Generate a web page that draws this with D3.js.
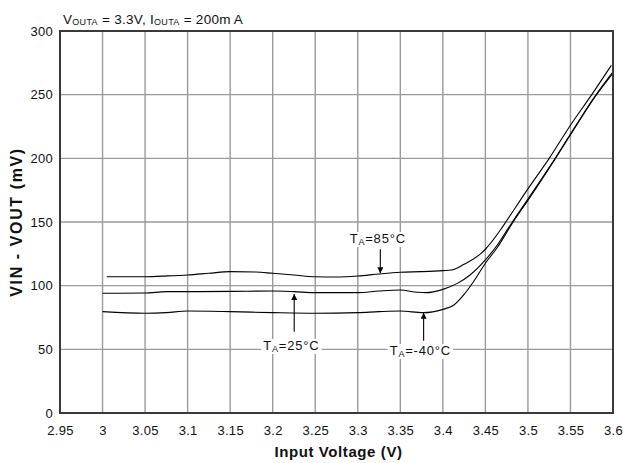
<!DOCTYPE html>
<html>
<head>
<meta charset="utf-8">
<script src="https://cdn.jsdelivr.net/npm/d3@7"></script>
<style>
  html, body { margin: 0; padding: 0; background: #fff; }
  svg text { font-family: "Liberation Sans", Arial, Helvetica, sans-serif; fill: #111; }
</style>
</head>
<body>
<svg id="chart" width="623" height="463"></svg>
<script>
// Dropout voltage (VIN - VOUT) versus input voltage at three ambient temperatures
const xTicks = [2.95, 3, 3.05, 3.1, 3.15, 3.2, 3.25, 3.3, 3.35, 3.4, 3.45, 3.5, 3.55, 3.6];
const yTicks = [0, 50, 100, 150, 200, 250, 300];

const vin85 = [3.005, 3.05, 3.07, 3.10, 3.125, 3.15, 3.18, 3.20, 3.225, 3.25, 3.275, 3.30, 3.325, 3.35, 3.375, 3.40, 3.41, 3.425, 3.445, 3.45, 3.4676, 3.475, 3.50, 3.525, 3.55, 3.575, 3.598];
const drop85 = [107, 107, 107.5, 108.4, 109.7, 111, 110.7, 109.7, 108.4, 107, 106.8, 107.6, 109.2, 110.5, 111, 111.8, 112.3, 116.8, 125.4, 128.6, 143.7, 151, 176, 200, 226, 250, 273];

const vin25 = [3.0, 3.05, 3.075, 3.10, 3.15, 3.20, 3.225, 3.25, 3.30, 3.325, 3.35, 3.37, 3.38, 3.40, 3.417, 3.432, 3.45, 3.464, 3.4755, 3.4833, 3.50, 3.532, 3.55, 3.579, 3.60];
const drop25 = [94, 94.2, 95.3, 95.3, 95.5, 95.8, 95.3, 94.5, 94.5, 95.8, 96.6, 94.8, 94.5, 97.1, 101.8, 108.4, 120.2, 131.9, 143.7, 151.6, 168, 200, 219, 249, 268];

const vinM40 = [3.0, 3.05, 3.075, 3.10, 3.15, 3.20, 3.25, 3.30, 3.325, 3.35, 3.377, 3.40, 3.413, 3.4245, 3.436, 3.45, 3.464, 3.483, 3.50, 3.532, 3.55, 3.579, 3.60];
const dropM40 = [79.6, 78.3, 78.8, 80.1, 79.6, 78.8, 78.3, 78.8, 79.6, 80.1, 78.8, 81.4, 84.8, 92.7, 103.1, 117.6, 130, 150.5, 167, 199.5, 218.5, 248.5, 267];

// Temperature callouts: label text, label anchor (V, mV), arrow tail and tip (V, mV)
const calloutTemps = ["85", "25", "-40"];
const calloutLabelV = [3.3235, 3.222, 3.3735];
const calloutLabelMv = [133.5, 49.5, 45.5];
const calloutTailMv = [128.6, 63.8, 56.8];
const calloutTipMv = [109.7, 93.5, 78.8];
const calloutArrowV = [3.3265, 3.2253, 3.3774];

const svg = d3.select("#chart");
const margin = { left: 60, right: 10, top: 31, bottom: 50 };
const W = 623, H = 463;

const x = d3.scaleLinear().domain([2.95, 3.6]).range([margin.left, W - margin.right]);
const y = d3.scaleLinear().domain([0, 300]).range([H - margin.bottom, margin.top]);

// grid
const grid = svg.append("g");
grid.selectAll("line.v").data(xTicks.slice(1, -1)).join("line")
  .attr("x1", d => x(d)).attr("x2", d => x(d))
  .attr("y1", y(0)).attr("y2", y(300))
  .attr("stroke", "#9a9a9a").attr("stroke-width", 1.4);
grid.selectAll("line.h").data(yTicks.slice(1, -1)).join("line")
  .attr("x1", x(2.95)).attr("x2", x(3.6))
  .attr("y1", d => y(d)).attr("y2", d => y(d))
  .attr("stroke", "#9a9a9a").attr("stroke-width", 1.4);

// axes (labels only, no tick marks)
const xAxis = d3.axisBottom(x).tickValues(xTicks).tickSize(0).tickPadding(13).tickFormat(d => String(d));
const yAxis = d3.axisLeft(y).tickValues(yTicks).tickSize(0).tickPadding(7).tickFormat(d => String(d));
const gx = svg.append("g").attr("transform", `translate(0,${y(0)})`).call(xAxis);
const gy = svg.append("g").attr("transform", `translate(${x(2.95)},0)`).call(yAxis);
[gx, gy].forEach(g => {
  g.select(".domain").remove();
  g.selectAll("text").attr("font-size", 13).attr("font-family", "Liberation Sans, Arial, sans-serif").attr("fill", "#111").attr("letter-spacing", 0.3);
});

// curves
const line = d3.line().x(d => x(d[0])).y(d => y(d[1])).curve(d3.curveMonotoneX);
const series = [
  d3.zip(vin85, drop85),
  d3.zip(vin25, drop25),
  d3.zip(vinM40, dropM40)
];
svg.append("g").selectAll("path").data(series).join("path")
  .attr("d", line).attr("fill", "none").attr("stroke", "#000").attr("stroke-width", 1.1);

// frame
svg.append("rect")
  .attr("x", x(2.95)).attr("y", y(300))
  .attr("width", x(3.6) - x(2.95)).attr("height", y(0) - y(300))
  .attr("fill", "none").attr("stroke", "#3a3a3a").attr("stroke-width", 2);

// callouts
const defs = svg.append("defs");
defs.append("marker").attr("id", "ah").attr("viewBox", "0 0 10 10")
  .attr("refX", 10).attr("refY", 5).attr("markerWidth", 8).attr("markerHeight", 6)
  .attr("markerUnits", "userSpaceOnUse").attr("orient", "auto")
  .append("path").attr("d", "M0,0 L10,5 L0,10 Z").attr("fill", "#000");

const callouts = calloutTemps.map((t, i) => ({
  t, lv: calloutLabelV[i], lm: calloutLabelMv[i],
  av: calloutArrowV[i], tail: calloutTailMv[i], tip: calloutTipMv[i]
}));
const cg = svg.append("g");
callouts.forEach(c => {
  cg.append("line")
    .attr("x1", x(c.av)).attr("x2", x(c.av))
    .attr("y1", y(c.tail)).attr("y2", y(c.tip))
    .attr("stroke", "#000").attr("stroke-width", 1.1)
    .attr("marker-end", "url(#ah)");
  const txt = cg.append("text")
    .attr("x", x(c.lv)).attr("y", y(c.lm))
    .attr("text-anchor", "middle").attr("font-size", 13).attr("letter-spacing", 0.8);
  txt.append("tspan").text("T");
  txt.append("tspan").attr("font-size", 9).attr("dy", 2).text("A");
  txt.append("tspan").attr("dy", -2).text("=" + c.t + "°C");
  const bb = txt.node().getBBox();
  cg.insert("rect", () => txt.node())
    .attr("x", bb.x - 2).attr("y", bb.y + 1)
    .attr("width", bb.width + 4).attr("height", bb.height - 1)
    .attr("fill", "#fff");
});

// header
const head = svg.append("text").attr("x", 63).attr("y", 24).attr("font-size", 13.5).attr("letter-spacing", 0.3);
head.append("tspan").text("V");
head.append("tspan").attr("font-size", 9).attr("dy", 1).text("OUTA");
head.append("tspan").attr("dy", -1).text(" = 3.3V, I");
head.append("tspan").attr("font-size", 9).attr("dy", 1).text("OUTA");
head.append("tspan").attr("dy", -1).text(" = 200m");
head.append("tspan").attr("dx", 3).text("A");

// axis titles
svg.append("text").attr("x", (x(2.95) + x(3.6)) / 2 + 2).attr("y", 457)
  .attr("text-anchor", "middle").attr("font-size", 15).attr("font-weight", "bold").attr("letter-spacing", 0.6)
  .text("Input Voltage (V)");
svg.append("text").attr("transform", `translate(22,${(y(0) + y(300)) / 2}) rotate(-90)`)
  .attr("text-anchor", "middle").attr("font-size", 16).attr("font-weight", "bold").attr("letter-spacing", 1.6)
  .text("VIN - VOUT (mV)");
</script>
</body>
</html>
